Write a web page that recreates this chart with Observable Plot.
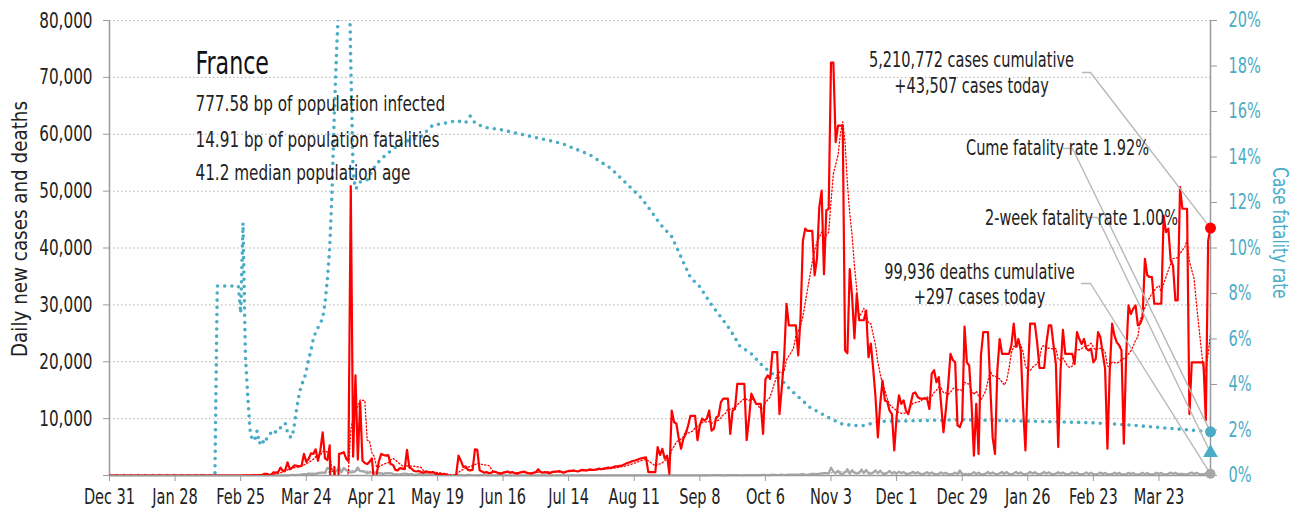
<!DOCTYPE html>
<html>
<head>
<meta charset="utf-8">
<script src="https://cdn.jsdelivr.net/npm/d3@7"></script>
<script src="https://cdn.jsdelivr.net/npm/@observablehq/plot@0.6"></script>
<style>
  html, body { margin: 0; padding: 0; background: #fff; }
  #chart { width: 1307px; height: 513px; }
</style>
</head>
<body>
<div id="chart"></div>
<script>
// ---------------- DATA ----------------
const firstDate = "2019-12-31";   // day 0 of the daily series
const lastDate = "2021-04-14";

// Daily new cases (one value per day from firstDate)
const cases = [
  0,0,0,0,0,0,0,0,0,0,0,0,0,0,0,0,0,0,0,0,0,0,0,0,
  3,0,0,0,1,1,0,1,0,0,0,0,0,0,0,5,0,0,0,1,0,0,0,0,0,0,0,0,0,0,0,0,
  2,4,20,19,43,30,61,13,81,92,276,296,177,83,575,499,600,
  1400,800,900,2300,1100,1400,1800,1700,1600,1700,3800,2400,2900,3900,3800,4600,2600,4400,7600,3000,2700,5300,
  -20000,1500,-12000,3800,3900,4100,3000,2500,50900,3300,17600,2800,12900,2600,2200,2000,2400,3000,-1500,100,
  2500,3800,3600,3500,3600,2000,1900,1000,900,1300,1200,1100,4500,1400,1200,800,700,800,600,500,700,600,500,600,400,200,300,200,250,100,-100,-200,-100,200,3500,2600,1500,1600,1000,900,1000,4600,4500,
  900,700,500,600,400,500,700,600,400,300,500,600,700,500,600,400,300,500,600,700,500,400,300,500,600,1100,600,500,600,500,400,600,700,700,800,600,500,700,800,800,900,800,700,900,1000,900,900,1100,1000,1000,1100,1200,1100,1200,1300,1400,1300,1500,1600,1600,1700,1800,2000,2200,2300,2500,2600,
  2700,2900,3000,3100,3200,600,600,600,600,5000,3600,4700,3000,3500,300,
  11400,9400,9100,6500,4700,6500,7300,8800,10500,10500,10500,6200,8800,10000,9700,10000,11400,7900,8200,10200,10500,12900,13500,13500,13500,7300,11400,11700,16100,16100,16100,16100,6200,10000,14400,13500,12600,12600,12600,
  7300,16900,17600,17000,21700,21700,21700,10800,15500,20800,30200,26400,26400,26400,26400,21100,27800,41300,43400,43000,43000,43000,35200,38100,47200,50100,35400,46600,46900,72600,72600,58600,61500,61500,61500,22000,21500,36300,31400,24100,31900,27300,27300,27300,29000,20800,23200,18800,13800,6700,12600,16700,13200,13000,11400,10800,4400,
  10300,14100,12600,13200,11400,10800,12600,14400,14600,13800,
  13500,13500,13500,13500,11700,17900,18500,16400,17300,12600,
  7600,11400,15800,21400,20300,19900,8800,8500,9700,26200,
  19900,19300,12600,3500,12600,3800,21100,25200,25200,25200,
  15500,6700,3800,18500,24000,21400,21400,21400,21400,22900,
  26700,22600,24000,22000,12000,4400,17300,26700,26700,26700,
  23400,18900,18900,18900,23400,26400,26400,22900,19600,5000,
  18500,25600,21400,21400,21400,21400,19600,25200,24000,23100,
  24000,22300,22000,22300,19900,20500,25200,24300,21400,18800,
  4700,18500,26700,24600,23400,22900,22000,5600,21100,29900,
  28400,29300,29900,26400,26700,27800,38100,35200,34900,34900,
  30200,30200,30200,30200,45700,42800,43400,37800,36900,30800,
  30800,50700,46900,46900,46900,10800,19900,19900,19900,19900,
  19900,19900,9700,41300,43507
];

// Daily new deaths (one value per day from firstDate)
const deaths = [
  0,0,0,0,0,0,0,0,0,0,0,0,0,0,0,0,0,0,0,0,0,0,0,0,0,0,0,0,0,0,0,0,0,0,0,0,0,0,0,0,0,0,0,0,0,0,
  1,
  0,0,0,0,0,0,0,0,0,0,
  1,
  0,0,0,0,
  1,1,0,2,3,2,8,14,15,13,18,12,36,21,27,69,128,78,112,112,186,240,231,365,299,319,292,418,499,509,471,
  1355,1120,1053,518,833,1417,541,1341,987,635,561,574,762,1438,753,761,642,395,547,531,544,516,389,369,242,437,367,427,289,
  218,166,135,306,330,278,178,243,80,70,263,348,83,351,104,96,125,185,110,83,66,74,35,43,98,80,70,52,57,31,31,107,81,44,46,
  29,13,54,87,23,27,28,24,10,9,111,28,27,14,28,9,4,29,30,20,0,45,14,4,30,19,18,16,14,15,6,6,25,
  11,14,10,25,17,13,8,14,12,4,22,15,18,9,5,14,11,16,14,8,15,3,12,18,10,9,12,6,17,11,6,14,11,8,17,9,15,12,5,16,10,7,18,20,14,4,12,16,24,19,22,9,17,25,13,
  30,25,40,20,12,35,45,28,38,55,30,20,45,50,52,60,55,35,24,60,78,55,65,58,40,30,70,85,60,75,
  90,62,50,80,95,110,75,62,140,125,88,105,140,90,115,175,150,165,140,160,190,240,160,120,230,280,270,250,320,400,420,
  420,380,1400,700,380,830,310,270,550,1100,330,930,500,350,450,1050,420,1000,380,300,500,900,400,850,350,250,450,800,350,650,
  300,700,400,600,300,250,400,650,350,600,300,200,350,600,300,550,280,180,320,560,290,500,260,160,280,520,240,900,300,250,200,
  150,300,600,260,500,220,170,330,620,300,550,280,200,380,650,300,620,250,180,360,640,310,560,250,190,350,620,340,580,290,200,
  350,620,330,560,270,180,340,580,320,540,260,170,310,560,300,520,240,160,300,550,280,500,230,160,290,520,270,470,
  220,150,280,500,260,480,210,140,270,480,250,460,200,140,260,470,240,450,200,130,280,500,270,470,210,150,300,520,290,480,230,
  310,300,170,190,400,530,280,470,310,180,200,420,340,297
];

// Cumulative case fatality rate (%), read at selected days (day index from firstDate)
const cfrDay = [0,45,46,55,56,57,58,59,60,61,62,63,64,65,66,67,68,69,70,71,72,73,74,75,76,77,78,79,80,81,82,83,84,85,86,87,88,89,90,91,92,93,94,95,96,97,98,99,100,101,102,103,104,105,106,107,110,114,118,123,127,133,138,144,148,152,154,156,160,167,180,193,205,214,222,227,231,235,240,244,248,252,257,261,265,269,274,278,282,287,291,295,299,304,308,313,318,322,329,340,364,392,419,433,447,461,470];
const cfrPct = [0,0,8.33,8.33,7.14,11.1,5.3,3.5,2.0,1.54,1.57,1.96,1.4,1.6,1.4,1.6,1.69,1.9,2.0,1.9,2.05,2.1,2.2,2.3,1.9,1.7,1.68,2.3,3.0,3.6,4.0,4.2,4.6,5.1,5.5,6.0,6.3,6.5,6.7,6.9,7.6,8.6,10.0,12.5,16.0,18.8,21,26,30,30,24,18.1,13.3,12.6,12.7,12.9,13.0,13.7,14.1,14.5,14.7,14.9,15.4,15.5,15.6,15.5,15.8,15.5,15.3,15.2,14.9,14.6,14.1,13.5,12.7,12.2,11.65,11.06,10.5,9.6,8.7,8.3,7.5,6.96,6.4,5.7,5.35,4.9,4.54,4.18,3.74,3.37,3.0,2.71,2.49,2.25,2.2,2.2,2.38,2.4,2.45,2.39,2.32,2.24,2.12,2.0,1.92];

// Latest summary figures
const cumCases = 5210772;
const todayCases = 43507;
const cumeFatalityPct = 1.92;
const twoWeekFatalityPct = 1.00;
const cumDeaths = 99936;
const todayDeaths = 297;

// Country facts
const country = "France";
const bpInfected = 777.58;
const bpFatalities = 14.91;
const medianAge = 41.2;

// Axis ticks
const leftTicks = [0,10000,20000,30000,40000,50000,60000,70000,80000];
const rightTicksPct = [0,2,4,6,8,10,12,14,16,18,20];
const xTickDates = ["2019-12-31","2020-01-28","2020-02-25","2020-03-24","2020-04-21","2020-05-19","2020-06-16","2020-07-14","2020-08-11","2020-09-08","2020-10-06","2020-11-03","2020-12-01","2020-12-29","2021-01-26","2021-02-23","2021-03-23"];
const xTickLabels = ["Dec 31","Jan 28","Feb 25","Mar 24","Apr 21","May 19","Jun 16","Jul 14","Aug 11","Sep 8","Oct 6","Nov 3","Dec 1","Dec 29","Jan 26","Feb 23","Mar 23"];

// ---------------- LAYOUT / STYLE ----------------
const W = 1307, H = 513;
const M = {top: 20, right: 97, bottom: 38, left: 109};
const FONT = "'DejaVu Sans Condensed', 'DejaVu Sans', sans-serif";
const RED = "#ff0000", BLUE = "#4bacc6", GREY = "#a6a6a6", AXIS = "#9a9a9a", LEAD = "#b8b8b8";
const FS = {ann: 21, yTick: 22, xTick: 21, rTick: 21, info: 22, title: 32, yTitle: 21, rTitle: 22};
const yTitleText = "Daily new cases and deaths";
const yTitleLength = 256;   // rendered length of the left axis title in the original
const yMax = 80000, rightMaxPct = 20;
const pctToY = p => p / rightMaxPct * yMax;   // right axis shares the left scale

const t0 = new Date(firstDate + "T00:00:00Z");
const t1 = new Date(lastDate + "T00:00:00Z");
const dayDate = i => new Date(t0.getTime() + i * 864e5);

const rows = cases.map((c, i) => ({date: dayDate(i), cases: c, deaths: deaths[i]}));
const cfrRows = cfrDay.map((d, i) => ({date: dayDate(d), y: pctToY(cfrPct[i])}));
const last = rows[rows.length - 1];

// pixel -> data helpers for annotation placement
const px = d3.scaleUtc([t0, t1], [M.left, W - M.right]);
const py = d3.scaleLinear([0, yMax], [H - M.bottom, M.top]);
const at = (x, y) => ({x: px.invert(x), y: py.invert(y)});

const fmt = d3.format(",");
const annotations = [
  {lines: [`${fmt(cumCases)} cases cumulative`, `+${fmt(todayCases)} cases today`], tx: 971, ty: [60, 86], anchor: "middle",
   lead: [[1082, 72], [1090, 72]], target: todayCases},
  {lines: [`Cume fatality rate ${cumeFatalityPct.toFixed(2)}%`], tx: 1057, ty: [148], anchor: "end",
   lead: [[1063, 148], [1072, 148]], target: pctToY(cumeFatalityPct)},
  {lines: [`2-week fatality rate ${twoWeekFatalityPct.toFixed(2)}%`], tx: 1081, ty: [218], anchor: "end",
   lead: [[1088, 217], [1097, 217]], target: pctToY(twoWeekFatalityPct)},
  {lines: [`${fmt(cumDeaths)} deaths cumulative`, `+${todayDeaths} cases today`], tx: 979, ty: [272, 297], anchor: "middle",
   lead: [[1081, 283], [1090, 283]], target: todayDeaths}
];

const annTexts = annotations.flatMap(a => a.lines.map((s, j) => ({...at(a.tx, a.ty[j]), text: s, anchor: a.anchor})));
const leadLines = annotations.flatMap((a, k) => [
  {...at(...a.lead[0]), k}, {...at(...a.lead[1]), k}, {x: last.date, y: a.target, k}
]);

const infoTexts = [
  {...at(195, 63), text: country},
  {...at(195, 103), text: `${bpInfected.toFixed(2)} bp of population infected`},
  {...at(195, 139), text: `${bpFatalities.toFixed(2)} bp of population fatalities`},
  {...at(195, 172), text: `${medianAge.toFixed(1)} median population age`}
];

const chart = Plot.plot({
  width: W, height: H,
  marginTop: M.top, marginRight: M.right, marginBottom: M.bottom, marginLeft: M.left,
  style: {fontFamily: FONT, background: "#fff", overflow: "visible"},
  x: {type: "utc", domain: [t0, t1]},
  y: {domain: [0, yMax]},
  marks: [
    Plot.gridY(leftTicks.filter(d => d > 0), {stroke: "#b0b0b0", strokeOpacity: 1, strokeDasharray: "1.5,2.5", strokeWidth: 1}),
    // axes
    Plot.axisY(leftTicks, {anchor: "left", tickSize: 6, tickPadding: 11, fontSize: FS.yTick, stroke: AXIS, fill: "#222",
      tickFormat: d => d === 0 ? "" : fmt(d), label: null}),
    Plot.axisY(rightTicksPct.map(pctToY), {anchor: "right", tickSize: 6, tickPadding: 12, fontSize: FS.rTick, stroke: AXIS, fill: BLUE,
      tickFormat: d => `${Math.round(d / yMax * rightMaxPct)}%`, label: null}),
    Plot.axisX(xTickDates.map(s => new Date(s + "T00:00:00Z")), {tickSize: 6, tickPadding: 8, fontSize: FS.xTick, stroke: AXIS, fill: "#222",
      tickFormat: (d, i) => xTickLabels[i], label: null}),
    Plot.ruleX([t0, t1], {stroke: AXIS, strokeWidth: 1.5}),
    // axis titles
    Plot.text([yTitleText], {frameAnchor: "left", textAnchor: "middle", dx: -89, dy: -19, rotate: -90, fontSize: FS.yTitle, fill: "#222"}),
    Plot.text(["Case fatality rate"], {frameAnchor: "right", textAnchor: "middle", dx: 70, dy: -15, rotate: 90, fontSize: FS.rTitle, fill: BLUE}),
    // series
    Plot.line(cfrRows, {x: "date", y: "y", stroke: BLUE, strokeWidth: 3.6, strokeDasharray: "0,7.2", strokeLinecap: "round", clip: true}),
    Plot.line(rows, Plot.windowY({k: 7, anchor: "end"}, {x: "date", y: "deaths", stroke: GREY, strokeWidth: 1.2, strokeDasharray: "1,2"})),
    Plot.line(rows, {x: "date", y: "deaths", stroke: GREY, strokeWidth: 2.2}),
    Plot.ruleY([0], {stroke: AXIS, strokeWidth: 1.5}),
    Plot.line(rows, Plot.windowY({k: 7, anchor: "end"}, {x: "date", y: "cases", stroke: RED, strokeWidth: 1.3, strokeDasharray: "1.3,2.2", clip: true})),
    Plot.line(rows, {x: "date", y: "cases", stroke: RED, strokeWidth: 2.2, clip: true}),
    // leader lines
    Plot.line(leadLines, {x: "x", y: "y", z: "k", stroke: LEAD, strokeWidth: 1.4}),
    // end markers
    Plot.dot([last], {x: "date", y: () => todayDeaths, r: 5, fill: GREY}),
    Plot.dot([last], {x: "date", y: () => pctToY(twoWeekFatalityPct), symbol: "triangle", r: 5.5, fill: BLUE}),
    Plot.dot([last], {x: "date", y: () => pctToY(cumeFatalityPct), r: 5.5, fill: BLUE}),
    Plot.dot([last], {x: "date", y: "cases", r: 5.5, fill: RED}),
    // annotations
    Plot.text(annTexts, {x: "x", y: "y", text: "text", textAnchor: d => d.anchor, fontSize: FS.ann, fill: "#222"}),
    Plot.text(infoTexts.slice(0, 1), {x: "x", y: "y", text: "text", textAnchor: "start", fontSize: FS.title, fill: "#111"}),
    Plot.text(infoTexts.slice(1), {x: "x", y: "y", text: "text", textAnchor: "start", fontSize: FS.info, fill: "#222"})
  ]
});
document.getElementById("chart").append(chart);

// Condense all text horizontally so the type matches the narrow face of the original.
// Reference: "5,210,772 cases cumulative" is ~205px wide.
(function condense() {
  const probe = document.createElementNS("http://www.w3.org/2000/svg", "text");
  probe.setAttribute("font-family", FONT);
  probe.setAttribute("font-size", FS.ann);
  probe.textContent = `${fmt(cumCases)} cases cumulative`;
  chart.appendChild(probe);
  const k = 205 / probe.getComputedTextLength();
  probe.remove();
  chart.querySelectorAll("text").forEach(t => {
    const n = t.getComputedTextLength();
    if (n > 0) {
      const len = t.textContent === yTitleText ? yTitleLength : n * k;
      t.setAttribute("textLength", len.toFixed(2));
      t.setAttribute("lengthAdjust", "spacingAndGlyphs");
    }
  });
})();
</script>
